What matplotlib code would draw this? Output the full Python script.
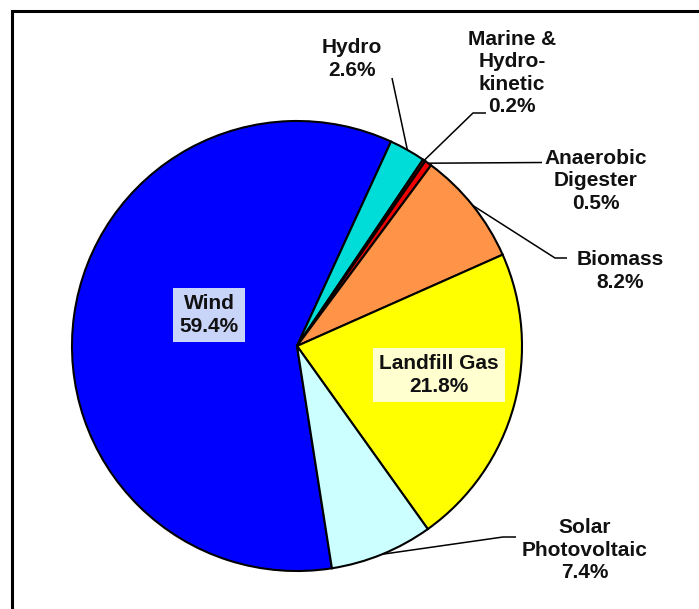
import numpy as np
import matplotlib
matplotlib.use("Agg")
import matplotlib.pyplot as plt
from matplotlib.patches import Rectangle

# ---- data ----
categories = ["Wind", "Hydro", "Marine &\nHydro-\nkinetic", "Anaerobic\nDigester",
              "Biomass", "Landfill Gas", "Solar\nPhotovoltaic"]
shares = [59.4, 2.6, 0.2, 0.5, 8.2, 21.8, 7.4]
colors = ["#0000FF", "#00DDD8", "#880000", "#EE0000", "#FF9448", "#FFFF00", "#CCFFFF"]

W, H = 699, 609
fig = plt.figure(figsize=(W / 100, H / 100), dpi=100)
ax = fig.add_axes([0, 0, 1, 1])

def py(y):  # pixel-from-top -> data y
    return H - y

cx, cy, R = 297, py(346), 225
hydro_start = 65.3
start = hydro_start + 360 * shares[0] / sum(shares)

wedges, _ = ax.pie(shares, colors=colors, startangle=start, counterclock=False,
                   center=(cx, cy), radius=R, frame=True,
                   wedgeprops=dict(edgecolor="black", linewidth=1.5))

ax.set_xlim(0, W)
ax.set_ylim(0, H)
ax.set_aspect("equal")
ax.axis("off")

font = dict(family=["Liberation Sans", "DejaVu Sans"], fontweight="bold", fontsize=15,
            ha="center", va="center", linespacing=1.22, color="#111111")

def lab(i):
    return f"{categories[i]}\n{shares[i]:.1f}%"

def edge_pt(i, r=1.0):
    w = wedges[i]
    a = np.deg2rad(0.5 * (w.theta1 + w.theta2))
    return cx + R * r * np.cos(a), cy + R * r * np.sin(a)

# inside labels with boxes
ax.text(209, py(315), lab(0), bbox=dict(boxstyle="square,pad=0.3", fc="#C8D4F8", ec="none"), **font)
ax.text(439, py(375), lab(5), bbox=dict(boxstyle="square,pad=0.32", fc="#FFFFD0", ec="none"), **font)

# outside labels
ax.text(352, py(59), lab(1), **font)
ax.text(512, py(73), lab(2), **font)
ax.text(596, py(181), lab(3), **font)
ax.text(620, py(271), lab(4), **font)
ax.text(585, py(550), lab(6), **font)

lk = dict(color="black", linewidth=1.1, solid_capstyle="butt")
# Hydro
x0, y0 = edge_pt(1)
ax.plot([x0, 392], [y0, py(78)], **lk)
# Marine
x0, y0 = edge_pt(2)
ax.plot([x0, 473, 486], [y0, py(113), py(113)], **lk)
# Anaerobic
x0, y0 = edge_pt(3)
ax.plot([x0, 542], [y0, py(162.5)], **lk)
# Biomass
x0, y0 = edge_pt(4)
ax.plot([x0, 555, 567], [y0, py(258), py(258)], **lk)
# Solar
x0, y0 = edge_pt(6)
ax.plot([x0, 503, 516], [y0, py(537), py(537)], **lk)

# outer frame (only left/top visible)
fig.patches.append(Rectangle((11.5 / W, -0.1), 1.5, (H - 10.5) / H + 0.1,
                             transform=fig.transFigure, fill=False, ec="black", lw=2.2))

fig.savefig("out.png", dpi=100)
